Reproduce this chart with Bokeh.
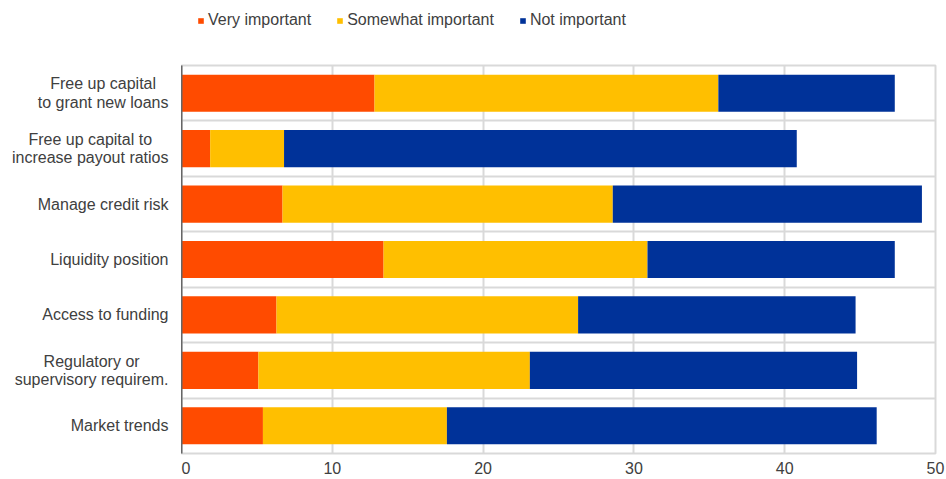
import numpy as np
from bokeh.plotting import figure
from bokeh.layouts import row, column
from bokeh.models import Range1d, FixedTicker, Legend, LegendItem, ColumnDataSource
from bokeh.core.properties import value
from bokeh.embed import file_html
from bokeh.resources import INLINE

# ---- data ----
categories = [
    "Free up capital\nto grant new loans",
    "Free up capital to\nincrease payout ratios",
    "Manage credit risk",
    "Liquidity position",
    "Access to funding",
    "Regulatory or\nsupervisory requirem.",
    "Market trends",
]
very_important = [12.8, 1.9, 6.7, 13.4, 6.3, 5.1, 5.4]
somewhat_important = [22.8, 4.9, 21.9, 17.5, 20.0, 18.0, 12.2]
not_important = [11.7, 34.0, 20.5, 16.4, 18.4, 21.7, 28.5]
series = ["Very important", "Somewhat important", "Not important"]
x_ticks = [0, 10, 20, 30, 40, 50]

# ---- style / layout ----
colors = ["#FF4B00", "#FFBF00", "#003299"]
FONT = "Liberation Sans"
TXT = "#404040"
GRID = "#d9d9d9"
W_TOTAL, H_TOTAL = 946, 479
LEFT_W = 181
TOP_H = 40
TOP_B, BOTTOM_B = 25, 26

ys = list(range(len(categories)))
src = ColumnDataSource(dict(
    y=ys,
    **{series[0]: very_important, series[1]: somewhat_important, series[2]: not_important},
))
y_range = Range1d(len(categories) - 0.5, -0.5)

# ---- main chart ----
p = figure(width=W_TOTAL - LEFT_W, height=H_TOTAL - TOP_H, output_backend="svg",
           toolbar_location=None, x_range=Range1d(0, 50), y_range=y_range,
           min_border_left=0, min_border_right=11, min_border_top=TOP_B,
           min_border_bottom=BOTTOM_B)
p.background_fill_color = "white"
p.border_fill_color = "white"
p.outline_line_color = GRID
p.outline_line_width = 2

p.hbar_stack(series, y="y", height=0.67, source=src, fill_color=colors, line_color=None)

p.yaxis.ticker = FixedTicker(ticks=[])
p.yaxis.axis_line_color = "#666666"
p.yaxis.axis_line_width = 2
p.yaxis.major_tick_line_color = None
p.yaxis.minor_tick_line_color = None
p.yaxis.major_tick_out = 0
p.yaxis.major_tick_in = 0
p.yaxis.minor_tick_out = 0
p.yaxis.major_label_standoff = 0

p.xaxis.ticker = FixedTicker(ticks=x_ticks)
p.xaxis.axis_line_color = None
p.xaxis.major_tick_line_color = None
p.xaxis.minor_tick_line_color = None
p.xaxis.major_tick_out = 0
p.xaxis.major_tick_in = 0
p.xaxis.minor_tick_out = 0
p.xaxis.major_label_standoff = 8
p.xaxis.major_label_text_font = FONT
p.xaxis.major_label_text_font_size = "16px"
p.xaxis.major_label_text_color = TXT

p.xgrid.ticker = FixedTicker(ticks=x_ticks)
p.xgrid.grid_line_color = GRID
p.xgrid.grid_line_width = 2
p.ygrid.ticker = FixedTicker(ticks=[i - 0.5 for i in range(len(categories) + 1)])
p.ygrid.grid_line_color = GRID
p.ygrid.grid_line_width = 2

# ---- category labels strip ----
CW = {' ': 278, 'a': 556, 'b': 556, 'c': 500, 'd': 556, 'e': 556, 'f': 278, 'g': 556,
      'h': 556, 'i': 222, 'j': 222, 'k': 500, 'l': 222, 'm': 833, 'n': 556, 'o': 556,
      'p': 556, 'q': 556, 'r': 333, 's': 500, 't': 278, 'u': 556, 'v': 500, 'w': 722,
      'x': 500, 'y': 500, 'z': 500, '.': 278, 'F': 611, 'M': 833, 'L': 556, 'A': 667, 'R': 722}

def text_w(s, size=16):
    return max(sum(CW.get(c, 556) for c in line) for line in s.split("\n")) * size / 1000.0

RIGHT_EDGE = LEFT_W - 13
multi = dict(x=[], y=[], t=[])
single = dict(x=[], y=[], t=[])
for y, c in zip(ys, categories):
    if "\n" in c:
        multi["x"].append(RIGHT_EDGE - text_w(c) / 2); multi["y"].append(y); multi["t"].append(c)
    else:
        single["x"].append(RIGHT_EDGE); single["y"].append(y); single["t"].append(c)

pl = figure(width=LEFT_W, height=H_TOTAL - TOP_H, output_backend="svg", toolbar_location=None,
            x_range=Range1d(0, LEFT_W), y_range=y_range, x_axis_type=None, y_axis_type=None,
            min_border_left=0, min_border_right=0, min_border_top=TOP_B,
            min_border_bottom=BOTTOM_B)
pl.outline_line_color = None
pl.background_fill_color = "white"
pl.border_fill_color = "white"
pl.text(x="x", y="y", text="t", source=ColumnDataSource(multi),
        text_align="center", text_baseline="middle", text_font=value(FONT),
        text_font_size="16px", text_color=TXT, text_line_height=1.1)
pl.text(x="x", y="y", text="t", source=ColumnDataSource(single),
        text_align="right", text_baseline="middle", text_font=value(FONT),
        text_font_size="16px", text_color=TXT)

# ---- legend strip ----
pt = figure(width=W_TOTAL, height=TOP_H, output_backend="svg", toolbar_location=None,
            x_range=Range1d(0, 1), y_range=Range1d(0, 1), x_axis_type=None, y_axis_type=None,
            min_border=0)
pt.outline_line_color = None
pt.background_fill_color = "white"
pt.border_fill_color = "white"
nan = np.array([np.nan])
swatches = [pt.hbar(y=nan, right=nan, height=1, fill_color=c, line_color=None) for c in colors]
legend = Legend(items=[LegendItem(label=s, renderers=[r]) for s, r in zip(series, swatches)],
                orientation="horizontal", location=(197, 11),
                glyph_width=7, glyph_height=7, label_standoff=4, spacing=25,
                padding=0, margin=0, border_line_color=None, background_fill_alpha=0,
                label_text_font=FONT, label_text_font_size="16px", label_text_color=TXT,
                label_height=16)
pt.add_layout(legend)

layout = column(pt, row(pl, p, spacing=0), spacing=0)
open("out.html", "w").write(file_html(layout, INLINE))
